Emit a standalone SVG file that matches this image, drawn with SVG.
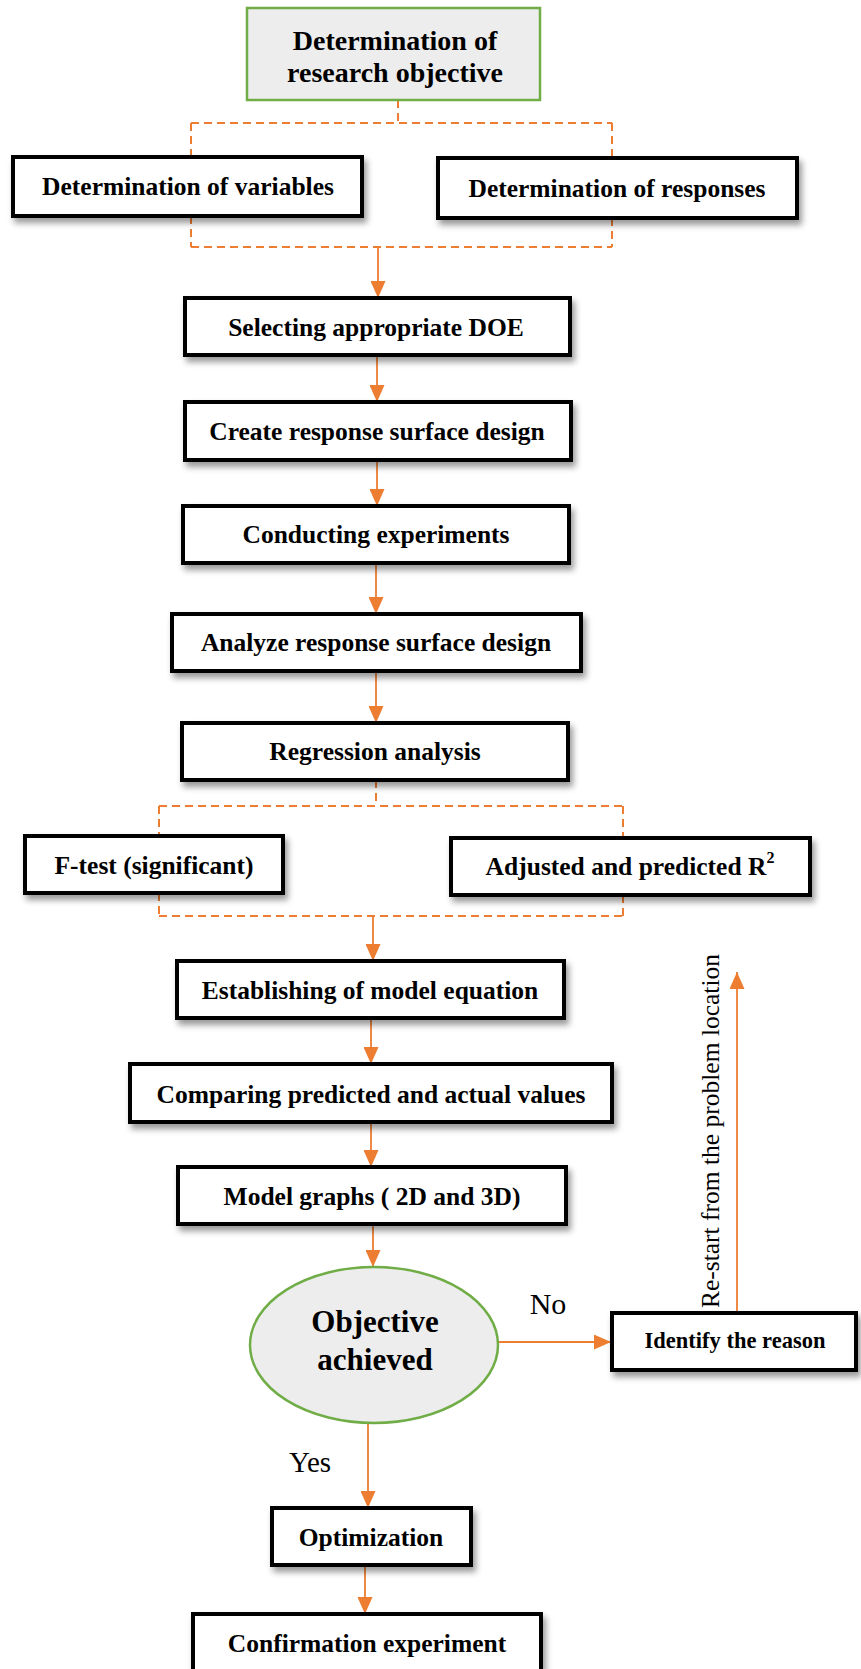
<svg xmlns="http://www.w3.org/2000/svg" width="861" height="1669" viewBox="0 0 861 1669">
<defs>
<filter id="sh" x="-10%" y="-20%" width="125%" height="160%">
<feDropShadow dx="3" dy="5" stdDeviation="3" flood-color="#000" flood-opacity="0.4"/>
</filter>
<marker id="ah" markerUnits="userSpaceOnUse" markerWidth="17" markerHeight="15" refX="17" refY="7.5" orient="auto">
<path d="M0,0 L17,7.5 L0,15 z" fill="#ed7d31"/>
</marker>
</defs>
<style>
.box{fill:#fff;stroke:#000;stroke-width:4;filter:url(#sh)}
.gbox{fill:#ededed;stroke:#70ad47;stroke-width:2.5}
.t{font-family:"Liberation Serif","Times New Roman",serif;font-weight:bold;font-size:25.5px;text-anchor:middle;fill:#000}
.r{font-family:"Liberation Serif","Times New Roman",serif;font-size:29px;text-anchor:middle;fill:#000}
.c{fill:none;stroke:#ed7d31;stroke-width:1.8}
.d{fill:none;stroke:#ed7d31;stroke-width:2;stroke-dasharray:8,5}
</style>
<g id="connectors">
<path class="d" d="M398,100 V123 M191,123 H612 M191,123 V157 M612,123 V158"/>
<path class="d" d="M191,216 V247 M612,218 V247 M191,247 H612"/>
<line class="c" x1="378" y1="247" x2="378" y2="298" marker-end="url(#ah)"/>
<line class="c" x1="377" y1="355" x2="377" y2="402" marker-end="url(#ah)"/>
<line class="c" x1="377" y1="460" x2="377" y2="506" marker-end="url(#ah)"/>
<line class="c" x1="376" y1="563" x2="376" y2="614" marker-end="url(#ah)"/>
<line class="c" x1="376" y1="671" x2="376" y2="723" marker-end="url(#ah)"/>
<path class="d" d="M376,780 V806 M159,806 H623 M159,806 V836 M623,806 V838"/>
<path class="d" d="M159,893 V916 M623,895 V916 M159,916 H623"/>
<line class="c" x1="373" y1="916" x2="373" y2="961" marker-end="url(#ah)"/>
<line class="c" x1="371" y1="1018" x2="371" y2="1064" marker-end="url(#ah)"/>
<line class="c" x1="371" y1="1122" x2="371" y2="1167" marker-end="url(#ah)"/>
<line class="c" x1="373" y1="1224" x2="373" y2="1267" marker-end="url(#ah)"/>
<line class="c" x1="498" y1="1342" x2="611" y2="1342" marker-end="url(#ah)"/>
<line class="c" x1="368" y1="1423" x2="368" y2="1508" marker-end="url(#ah)"/>
<line class="c" x1="365" y1="1565" x2="365" y2="1614" marker-end="url(#ah)"/>
<line class="c" x1="737" y1="1313" x2="737" y2="972" marker-end="url(#ah)"/>
<text class="r" style="font-size:30px" x="548" y="1314">No</text>
<text class="r" x="310" y="1472">Yes</text>
<text class="r" style="font-size:25.5px" transform="translate(719,1131) rotate(-90)" x="0" y="0">Re-start from the problem location</text>
</g>
<g id="n-objective">
<rect class="gbox" x="247" y="8" width="293" height="92"/>
<text class="t" style="font-size:28px" x="395" y="50">Determination of</text>
<text class="t" style="font-size:28px" x="395" y="82">research objective</text>
</g>
<g id="n-variables">
<rect class="box" x="13" y="157" width="349" height="59"/>
<text class="t" x="188" y="195">Determination of variables</text>
</g>
<g id="n-responses">
<rect class="box" x="438" y="158" width="359" height="60"/>
<text class="t" x="617" y="197">Determination of responses</text>
</g>
<g id="n-doe">
<rect class="box" x="185" y="298" width="385" height="57"/>
<text class="t" x="376" y="336">Selecting appropriate DOE</text>
</g>
<g id="n-create">
<rect class="box" x="185" y="402" width="386" height="58"/>
<text class="t" x="377" y="440">Create response surface design</text>
</g>
<g id="n-conduct">
<rect class="box" x="183" y="506" width="386" height="57"/>
<text class="t" x="376" y="543">Conducting experiments</text>
</g>
<g id="n-analyze">
<rect class="box" x="172" y="614" width="409" height="57"/>
<text class="t" x="376" y="651">Analyze response surface design</text>
</g>
<g id="n-regression">
<rect class="box" x="182" y="723" width="386" height="57"/>
<text class="t" x="375" y="760">Regression analysis</text>
</g>
<g id="n-ftest">
<rect class="box" x="25" y="836" width="258" height="57"/>
<text class="t" x="154" y="874">F-test (significant)</text>
</g>
<g id="n-r2">
<rect class="box" x="451" y="838" width="359" height="57"/>
<text class="t" x="630" y="875">Adjusted and predicted R<tspan style="font-size:16px" dy="-12">2</tspan></text>
</g>
<g id="n-equation">
<rect class="box" x="177" y="961" width="387" height="57"/>
<text class="t" x="370" y="999">Establishing of model equation</text>
</g>
<g id="n-compare">
<rect class="box" x="130" y="1064" width="482" height="58"/>
<text class="t" x="371" y="1103">Comparing predicted and actual values</text>
</g>
<g id="n-graphs">
<rect class="box" x="178" y="1167" width="388" height="57"/>
<text class="t" x="372" y="1205">Model graphs ( 2D and 3D)</text>
</g>
<g id="n-achieved">
<ellipse class="gbox" cx="374" cy="1345" rx="124" ry="78"/>
<text class="t" style="font-size:31px" x="375" y="1332">Objective</text>
<text class="t" style="font-size:31px" x="375" y="1370">achieved</text>
</g>
<g id="n-reason">
<rect class="box" x="612" y="1313" width="244" height="57"/>
<text class="t" style="font-size:22.5px" x="735" y="1348">Identify the reason</text>
</g>
<g id="n-optimization">
<rect class="box" x="272" y="1508" width="199" height="57"/>
<text class="t" x="371" y="1546">Optimization</text>
</g>
<g id="n-confirmation">
<rect class="box" x="193" y="1614" width="348" height="70"/>
<text class="t" x="367" y="1652">Confirmation experiment</text>
</g>
</svg>
